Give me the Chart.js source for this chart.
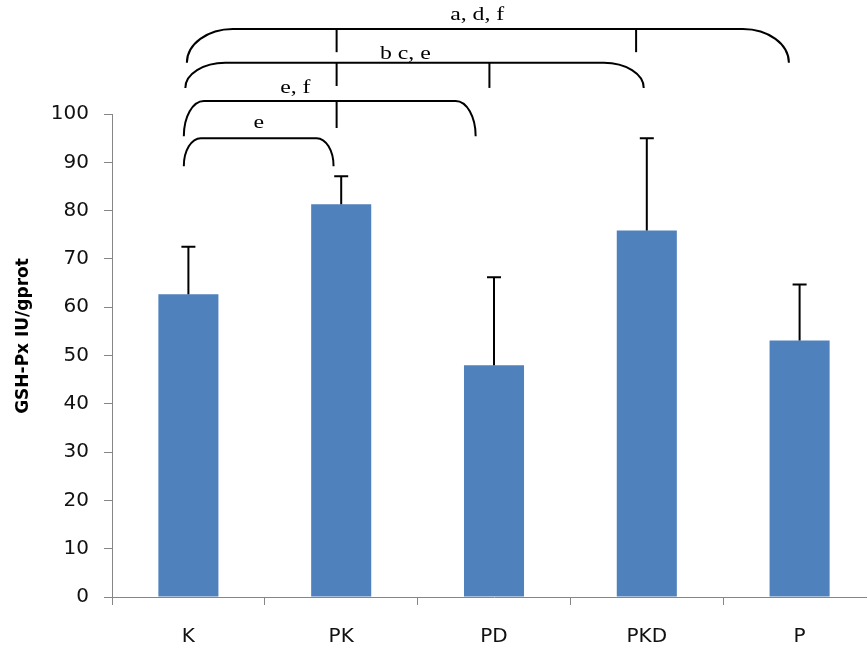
<!DOCTYPE html>
<html>
<head>
<meta charset="utf-8">
<script src="https://cdn.jsdelivr.net/npm/chart.js@4"></script>
<style>
    html, body { margin: 0; padding: 0; background: #fff; overflow: hidden; }
    #wrap { width: 876px; height: 655px; }
</style>
</head>
<body>
<div id="wrap"><canvas id="gshChart" width="876" height="655"></canvas></div>
<script>
// Data
const groups = ['K', 'PK', 'PD', 'PKD', 'P'];
const gshMeans = [62.7, 81.3, 48.0, 75.9, 53.1];
const gshSD = [9.8, 5.8, 18.2, 19.1, 11.6];
const yTicks = [0, 10, 20, 30, 40, 50, 60, 70, 80, 90, 100];
const yTitle = 'GSH-Px IU/gprot';

// Significance brackets (category index positions, values in axis units)
const brackets = [
    { label: 'a, d, f', from: -0.01, to: 3.93, top: 117.6, bottom: 110.6, labelY: 119.5, labelX: 1.89, curve: 46,
      ticks: [{ at: 0.97, bottom: 112.8 }, { at: 2.93, bottom: 112.8 }] },
    { label: 'b c, e', from: -0.02, to: 2.98, top: 110.6, bottom: 105.4, labelY: 111.4, labelX: 1.42, curve: 40,
      ticks: [{ at: 0.97, bottom: 105.8 }, { at: 1.97, bottom: 105.4 }] },
    { label: 'e, f', from: -0.03, to: 1.88, top: 102.7, bottom: 95.4, labelY: 104.3, labelX: 0.70, curve: 20,
      ticks: [{ at: 0.97, bottom: 97.1 }] },
    { label: 'e', from: -0.03, to: 0.95, top: 95.0, bottom: 89.2, labelY: 97.1, labelX: 0.46, curve: 17,
      ticks: [] }
];

// Error bars (upper only)
const errorBarPlugin = {
    id: 'errorBars',
    afterDatasetsDraw(chart) {
        const { ctx } = chart;
        const x = chart.scales.x;
        const y = chart.scales.y;
        ctx.save();
        ctx.strokeStyle = '#000';
        ctx.lineWidth = 2;
        gshMeans.forEach((m, i) => {
            const px = x.getPixelForValue(i);
            const yTop = y.getPixelForValue(m + gshSD[i]);
            const yBase = y.getPixelForValue(m);
            ctx.beginPath();
            ctx.moveTo(px, yBase);
            ctx.lineTo(px, yTop);
            ctx.moveTo(px - 7, yTop);
            ctx.lineTo(px + 7, yTop);
            ctx.stroke();
        });
        ctx.restore();
    }
};

// Brackets + axis title
const annotationPlugin = {
    id: 'brackets',
    afterDraw(chart) {
        const { ctx } = chart;
        const x = chart.scales.x;
        const y = chart.scales.y;
        ctx.save();
        ctx.strokeStyle = '#000';
        ctx.lineWidth = 2;
        brackets.forEach(b => {
            const x1 = x.getPixelForValue(b.from);
            const x2 = x.getPixelForValue(b.to);
            const yt = y.getPixelForValue(b.top);
            const yb = y.getPixelForValue(b.bottom);
            const ry = yb - yt;
            ctx.beginPath();
            ctx.ellipse(x1 + b.curve, yb, b.curve, ry, 0, Math.PI, Math.PI * 1.5);
            ctx.lineTo(x2 - b.curve, yt);
            ctx.ellipse(x2 - b.curve, yb, b.curve, ry, 0, Math.PI * 1.5, Math.PI * 2);
            ctx.stroke();
            b.ticks.forEach(t => {
                const tx = x.getPixelForValue(t.at);
                ctx.beginPath();
                ctx.moveTo(tx, yt);
                ctx.lineTo(tx, y.getPixelForValue(t.bottom));
                ctx.stroke();
            });
            // label, stretched horizontally like the source figure
            ctx.save();
            ctx.translate(x.getPixelForValue(b.labelX), y.getPixelForValue(b.labelY));
            ctx.scale(1.25, 1);
            ctx.fillStyle = '#000';
            ctx.font = '19px "Liberation Serif", serif';
            ctx.textAlign = 'center';
            ctx.textBaseline = 'alphabetic';
            ctx.fillText(b.label, 0, 0);
            ctx.restore();
        });

        // y axis title
        ctx.save();
        ctx.translate(24, 336);
        ctx.rotate(-Math.PI / 2);
        ctx.fillStyle = '#000';
        ctx.font = 'bold 17px "DejaVu Sans", sans-serif';
        ctx.textAlign = 'center';
        ctx.textBaseline = 'middle';
        ctx.fillText(yTitle, 0, 0);
        ctx.restore();
        ctx.restore();
    }
};

const ctx = document.getElementById('gshChart').getContext('2d');
new Chart(ctx, {
    type: 'bar',
    data: {
        labels: groups,
        datasets: [{
            data: gshMeans,
            backgroundColor: '#4F81BD',
            borderWidth: 0,
            barPercentage: 0.393,
            categoryPercentage: 1
        }]
    },
    options: {
        responsive: false,
        animation: false,
        devicePixelRatio: 1,
        layout: { padding: { top: 114, left: 0, right: 0, bottom: 0 } },
        plugins: {
            legend: { display: false },
            tooltip: { enabled: false }
        },
        scales: {
            x: {
                afterFit: (scale) => { scale.height = 58; },
                grid: { offset: true, drawOnChartArea: false, drawTicks: true, tickLength: 8, color: '#868686' },
                border: { color: '#868686', width: 1 },
                ticks: {
                    padding: 20,
                    color: '#111',
                    font: { family: '"DejaVu Sans", sans-serif', size: 20 }
                }
            },
            y: {
                min: 0,
                max: 100,
                afterFit: (scale) => { scale.width = 112; },
                afterBuildTicks: (scale) => { scale.ticks = yTicks.map(v => ({ value: v })); },
                grid: { drawOnChartArea: false, drawTicks: true, tickLength: 8, color: '#868686' },
                border: { color: '#868686', width: 1 },
                ticks: {
                    padding: 15,
                    color: '#111',
                    font: { family: '"DejaVu Sans", sans-serif', size: 20 }
                }
            }
        }
    },
    plugins: [errorBarPlugin, annotationPlugin]
});
</script>
</body>
</html>
